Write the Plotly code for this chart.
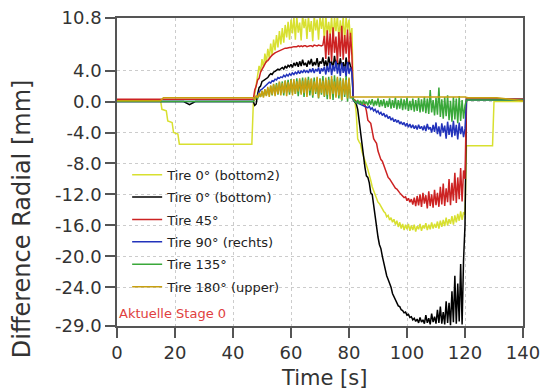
import plotly.graph_objects as go

# ---------------- shared time segments (s) ----------------
t_mid = [47.0, 47.5, 48.0, 48.5, 49.0, 49.5, 50.0, 50.5, 51.0, 51.5,
         52.0, 52.5, 53.0, 53.5, 54.0, 54.5, 55.0, 55.5, 56.0, 56.5,
         57.0, 57.5, 58.0, 58.5, 59.0, 59.5, 60.0, 60.5, 61.0, 61.5,
         62.0, 62.5, 63.0, 63.5, 64.0, 64.5, 65.0, 65.5, 66.0, 66.5,
         67.0, 67.5, 68.0, 68.5, 69.0, 69.5, 70.0, 70.5, 71.0, 71.5,
         72.0, 72.5, 73.0, 73.5, 74.0, 74.5, 75.0, 75.5, 76.0, 76.5,
         77.0, 77.5, 78.0, 78.5, 79.0, 79.5, 80.0, 80.5, 81.0]
t_low = [81.5, 82.0, 82.5, 83.0, 83.5, 84.0, 84.5, 85.0, 85.5, 86.0,
         86.5, 87.0, 87.5, 88.0, 88.5, 89.0, 89.5, 90.0, 90.5, 91.0,
         91.5, 92.0, 92.5, 93.0, 93.5, 94.0, 94.5, 95.0, 95.5, 96.0,
         96.5, 97.0, 97.5, 98.0, 98.5, 99.0, 99.5, 100.0, 100.5, 101.0,
         101.5, 102.0, 102.5, 103.0, 103.5, 104.0, 104.5, 105.0, 105.5, 106.0,
         106.5, 107.0, 107.5, 108.0, 108.5, 109.0, 109.5, 110.0, 110.5, 111.0,
         111.5, 112.0, 112.5, 113.0, 113.5, 114.0, 114.5, 115.0, 115.5, 116.0,
         116.5, 117.0, 117.5, 118.0, 118.5, 119.0, 119.5, 120.0]

# ---------------- Tire 0° (bottom2) ----------------
b2_head_t = [0, 15, 15.5, 17, 17.5, 19, 19.5, 21, 21.5, 46.5]
b2_head_v = [0.2, 0.2, -1.0, -1.2, -2.5, -2.7, -4.0, -4.2, -5.5, -5.5]
b2_mid_v = [-0.3, 0.8, 2.0, 3.5, 4.6, 3.8, 5.5, 4.4, 6.2, 5.0,
            6.8, 5.6, 7.5, 6.0, 8.0, 6.6, 8.6, 7.0, 9.1, 7.4,
            9.5, 7.6, 9.9, 8.3, 10.3, 8.0, 10.6, 8.8, 10.9, 8.0,
            11.0, 8.9, 10.2, 7.9, 11.2, 9.5, 10.7, 8.1, 11.0, 9.0,
            10.4, 7.8, 11.1, 9.2, 10.6, 8.0, 11.0, 9.4, 10.8, 7.9,
            11.2, 8.7, 10.3, 8.6, 11.0, 7.7, 10.9, 9.1, 11.1, 8.0,
            10.5, 8.5, 11.0, 7.8, 10.9, 9.2, 10.6, 8.0, 9.5]
b2_low_v = [0.3, 0.2, -1.5, -4.8, -5.2, -5.5, -6.5, -7.0, -7.5, -8.2,
            -8.8, -9.4, -10.2, -11.0, -11.5, -12.2, -12.5, -13.0, -13.2, -13.6,
            -13.8, -14.2, -14.4, -14.9, -14.7, -15.3, -15.0, -15.6, -15.2, -15.9,
            -15.4, -16.2, -15.6, -16.4, -15.8, -16.6, -15.9, -16.5, -15.8, -16.7,
            -16.0, -16.6, -15.9, -16.8, -16.1, -16.5, -15.8, -16.7, -16.0, -16.4,
            -15.7, -16.6, -15.9, -16.5, -15.6, -16.4, -15.8, -16.3, -15.5, -16.4,
            -15.4, -16.2, -15.3, -16.1, -15.0, -16.0, -15.2, -15.8, -14.8, -15.9,
            -14.7, -15.6, -14.5, -15.4, -14.2, -15.3, -14.3, -14.6]
b2_tail_t = [120.5, 129.5, 130, 140]
b2_tail_v = [-5.7, -5.7, 0.0, 0.0]

# ---------------- Tire 0° (bottom) ----------------
bo_head_t = [0, 23, 25, 27, 46.5]
bo_head_v = [0.0, 0.0, -0.4, 0.0, 0.0]
bo_mid_v = [0.0, -0.5, -0.3, 1.0, 1.8, 2.0, 2.6, 2.7, 2.8, 3.0,
            3.1, 3.4, 3.6, 3.5, 3.8, 3.9, 4.0, 4.2, 4.1, 4.3,
            4.4, 4.2, 4.6, 4.3, 4.7, 4.5, 4.8, 4.4, 5.0, 4.6,
            5.1, 4.5, 5.2, 4.6, 5.4, 4.7, 5.0, 4.5, 5.3, 4.8,
            5.5, 4.6, 5.1, 4.7, 5.6, 4.5, 5.2, 4.9, 5.7, 4.6,
            5.3, 4.4, 5.8, 4.7, 5.2, 4.3, 5.9, 4.6, 5.4, 4.2,
            5.6, 4.5, 5.1, 4.0, 5.7, 4.4, 5.3, 4.6, 4.2]
bo_low_v = [0.2, 0.0, -0.3, -1.0, -2.5, -4.5, -6.0, -7.5, -8.5, -9.6,
            -9.8, -10.5, -11.8, -12.0, -13.5, -15.0, -16.5, -17.5, -18.5, -19.0,
            -20.0, -21.0, -21.5, -22.5, -23.0, -23.5, -24.0, -24.8, -25.2, -25.8,
            -26.0, -26.4, -26.5, -26.9, -27.0, -27.3, -27.2, -27.6, -27.5, -27.9,
            -27.8, -28.2, -28.0, -28.4, -28.1, -28.6, -27.9, -28.5, -28.2, -28.7,
            -27.6, -28.6, -28.0, -28.8, -27.4, -28.5, -27.8, -28.7, -26.9, -28.6,
            -26.5, -28.7, -27.2, -28.8, -25.8, -28.6, -26.0, -28.9, -24.5, -28.5,
            -22.5, -28.7, -23.5, -28.4, -21.0, -28.8, -20.5, -16.0]
bo_tail_t = [120.5, 121, 140]
bo_tail_v = [0.3, 0.3, 0.3]

# ---------------- Tire 45° ----------------
t45_head_t = [0, 46.5]
t45_head_v = [0.3, 0.3]
t45_mid_v = [0.3, 1.5, 2.0, 2.8, 3.0, 3.8, 4.2, 4.6, 4.8, 5.2,
             5.3, 5.6, 5.8, 6.0, 6.2, 6.3, 6.4, 6.5, 6.6, 6.7,
             6.8, 6.8, 6.9, 6.9, 7.0, 7.0, 7.0, 7.1, 7.1, 7.1,
             7.1, 7.2, 7.1, 7.2, 7.1, 7.2, 7.2, 7.1, 7.2, 7.2,
             7.2, 7.1, 7.3, 7.2, 7.2, 7.3, 7.2, 7.2, 7.3, 8.5,
             5.5, 9.2, 6.0, 8.8, 5.2, 9.6, 6.3, 8.4, 5.0, 9.0,
             5.8, 9.8, 5.4, 8.6, 6.2, 9.3, 5.1, 8.9, 6.0]
t45_low_v = [0.3, 0.2, 0.0, 0.0, -0.1, -0.2, -0.2, -0.3, -0.4, -1.2,
             -2.4, -2.6, -2.8, -3.8, -4.8, -5.1, -5.4, -6.4, -7.0, -7.5,
             -7.7, -8.2, -8.8, -9.2, -9.8, -10.0, -10.3, -10.6, -10.9, -11.2,
             -11.3, -11.6, -11.8, -12.0, -12.2, -12.4, -12.3, -12.8, -12.5, -13.0,
             -12.6, -13.3, -12.4, -13.5, -12.2, -13.4, -12.0, -13.6, -11.8, -13.2,
             -12.1, -13.8, -11.6, -13.5, -12.0, -13.7, -11.4, -13.4, -11.8, -13.6,
             -11.0, -13.3, -10.6, -13.5, -11.2, -13.0, -10.0, -13.4, -10.5, -12.8,
             -9.2, -13.1, -9.8, -12.6, -8.6, -12.9, -8.9, -10.0]
t45_tail_t = [120.5, 121, 140]
t45_tail_v = [0.3, 0.3, 0.3]

# ---------------- Tire 90° (rechts) ----------------
t90_head_t = [0, 46.5]
t90_head_v = [0.0, 0.0]
t90_mid_v = [0.0, 0.4, 0.6, 0.8, 1.2, 1.5, 1.6, 1.8, 2.0, 2.2,
             2.3, 2.5, 2.4, 2.7, 2.6, 2.9, 2.8, 3.1, 3.0, 3.2,
             3.1, 3.4, 3.2, 3.5, 3.3, 3.6, 3.4, 3.7, 3.5, 3.8,
             3.6, 3.9, 3.6, 4.0, 3.7, 4.1, 3.8, 4.0, 3.7, 4.2,
             3.8, 4.3, 3.7, 4.2, 3.9, 4.4, 3.6, 4.3, 3.9, 4.5,
             3.5, 4.6, 3.8, 5.0, 3.4, 4.7, 3.9, 5.2, 3.6, 4.8,
             3.3, 5.0, 3.7, 4.6, 3.2, 5.1, 3.6, 4.4, 3.8]
t90_low_v = [0.2, 0.0, -0.1, -0.2, -0.3, -0.4, -0.5, -0.5, -0.6, -0.7,
             -0.8, -0.6, -1.0, -0.8, -1.2, -1.0, -1.4, -1.2, -1.6, -1.4,
             -1.8, -1.5, -2.0, -1.7, -2.2, -1.9, -2.4, -2.1, -2.6, -2.3,
             -2.7, -2.4, -2.9, -2.6, -3.0, -2.7, -3.2, -2.8, -3.3, -2.9,
             -3.4, -3.0, -3.5, -3.1, -3.6, -3.0, -3.5, -3.2, -3.7, -3.1,
             -3.8, -2.9, -3.6, -3.3, -4.0, -3.0, -3.9, -2.7, -4.2, -3.2,
             -4.5, -2.8, -4.0, -3.1, -4.8, -2.6, -4.3, -3.0, -4.6, -2.5,
             -4.4, -3.0, -4.9, -2.7, -4.2, -3.2, -4.6, -3.5]
t90_tail_t = [120.5, 121, 140]
t90_tail_v = [0.2, 0.2, 0.2]

# ---------------- Tire 135° ----------------
t135_head_t = [0, 46.5]
t135_head_v = [0.0, 0.0]
t135_mid_v = [0.0, 0.3, 0.6, 0.4, 1.0, 0.6, 1.3, 0.7, 1.5, 0.8,
              1.7, 0.9, 2.0, 0.8, 2.2, 1.0, 2.4, 0.9, 2.5, 1.1,
              2.6, 0.8, 2.7, 1.2, 2.8, 0.9, 2.9, 1.3, 2.6, 1.0,
              3.0, 0.7, 2.8, 1.1, 3.1, 0.6, 2.9, 1.2, 3.2, 0.8,
              2.9, 0.5, 3.1, 1.0, 2.7, 0.4, 3.0, 0.9, 3.3, 0.6,
              2.8, 0.3, 3.2, 0.8, 2.9, 0.2, 3.4, 0.7, 3.0, 0.4,
              3.1, 0.1, 2.8, 0.6, 3.3, 0.0, 2.9, 0.5, 0.5]
t135_low_v = [0.3, 0.1, -0.2, 0.2, -0.3, 0.1, -0.4, 0.2, -0.3, 0.0,
              -0.5, 0.2, -0.4, 0.3, -0.6, 0.1, -0.5, 0.4, -0.7, 0.2,
              -0.6, 0.3, -0.8, 0.1, -0.7, 0.4, -0.9, 0.2, -0.8, 0.5,
              -1.0, 0.2, -0.9, 0.4, -1.1, 0.3, -1.0, 0.5, -1.2, 0.1,
              -1.1, 0.4, -1.3, 0.2, -1.2, 0.5, -1.4, 0.3, -1.3, 0.6,
              -1.5, 0.4, -1.6, 1.5, -1.4, 0.2, -1.8, 0.5, -1.7, 1.8,
              -2.0, 0.3, -2.2, 0.6, -1.9, 0.8, -2.4, 0.1, -2.6, 0.6,
              -2.3, 0.4, -2.8, 0.7, -2.5, 0.2, -2.2, -0.5]
t135_tail_t = [120.5, 121, 140]
t135_tail_v = [0.2, 0.2, 0.2]

# ---------------- Tire 180° (upper) ----------------
t180_head_t = [0, 15, 16, 46.5]
t180_head_v = [0.1, 0.1, 0.5, 0.5]
t180_mid_v = [0.5, 0.2, 0.8, 0.5, 1.1, 0.6, 1.4, 0.5, 1.6, 0.7,
              1.9, 0.6, 2.1, 0.9, 2.3, 0.7, 2.2, 1.0, 2.6, 0.8,
              2.4, 1.1, 2.7, 0.7, 2.5, 1.2, 2.8, 0.8, 2.9, 1.0,
              2.6, 1.3, 3.0, 0.9, 2.7, 1.1, 3.1, 0.6, 2.8, 1.4,
              3.0, 0.8, 2.6, 1.2, 3.2, 0.5, 2.9, 1.1, 2.7, 0.7,
              3.1, 0.9, 2.8, 0.3, 3.3, 1.0, 2.6, 0.5, 3.2, 0.8,
              2.7, 0.2, 3.0, 0.9, 2.8, 0.4, 3.1, 0.6, 0.6]
t180_tail_t = [81.5, 120.0, 121, 131, 140]
t180_tail_v = [0.6, 0.6, 0.5, 0.5, 0.1]

# ---------------- axis ticks ----------------
x_ticks = [0, 20, 40, 60, 80, 100, 120, 140]
y_tickvals = [10.8, 4.0, 0.0, -4.0, -8.0, -12.0, -16.0, -20.0, -24.0, -29.0]
y_ticktext = ["10.8", "4.0", "0.0", "-4.0", "-8.0", "-12.0", "-16.0", "-20.0", "-24.0", "-29.0"]

series = [
    ("Tire 0° (bottom2)", "#d8e030",
     b2_head_t + t_mid + t_low + b2_tail_t, b2_head_v + b2_mid_v + b2_low_v + b2_tail_v),
    ("Tire 0° (bottom)", "#000000",
     bo_head_t + t_mid + t_low + bo_tail_t, bo_head_v + bo_mid_v + bo_low_v + bo_tail_v),
    ("Tire 45°", "#cc2222",
     t45_head_t + t_mid + t_low + t45_tail_t, t45_head_v + t45_mid_v + t45_low_v + t45_tail_v),
    ("Tire 90° (rechts)", "#2233bb",
     t90_head_t + t_mid + t_low + t90_tail_t, t90_head_v + t90_mid_v + t90_low_v + t90_tail_v),
    ("Tire 135°", "#3aa83a",
     t135_head_t + t_mid + t_low + t135_tail_t, t135_head_v + t135_mid_v + t135_low_v + t135_tail_v),
    ("Tire 180° (upper)", "#c8a010",
     t180_head_t + t_mid + t180_tail_t, t180_head_v + t180_mid_v + t180_tail_v),
]

fig = go.Figure()
for name, color, xs, ys in series:
    n = min(len(xs), len(ys))
    fig.add_trace(go.Scatter(x=xs[:n], y=ys[:n], mode="lines", name=name,
                             legendgroup=name,
                             line=dict(color=color, width=1.5)))

fig.add_annotation(text="Aktuelle Stage 0", xref="paper", yref="paper",
                   x=0.0, y=0.04, xanchor="left", yanchor="middle",
                   showarrow=False, font=dict(family="DejaVu Sans", size=13, color="#e04040"))

# axis titles placed as annotations to match the reference positions
fig.add_annotation(text="Difference Radial [mm]", xref="paper", yref="paper",
                   x=-0.234, y=0.35, xanchor="center", yanchor="middle", textangle=-90,
                   showarrow=False, font=dict(family="DejaVu Sans", size=24, color="#333333"))
fig.add_annotation(text="Time [s]", xref="paper", yref="paper",
                   x=0.51, y=-0.168, xanchor="center", yanchor="middle",
                   showarrow=False, font=dict(family="DejaVu Sans", size=21, color="#333333"))

axis_common = dict(showline=True, linecolor="#555555", linewidth=1.5, mirror=True,
                   ticks="outside", ticklen=10, tickwidth=1.5, tickcolor="#555555",
                   showgrid=True, gridcolor="#cccccc", griddash="dot", gridwidth=1,
                   zeroline=False, automargin=False, ticklabeloverflow="allow",
                   tickfont=dict(family="DejaVu Sans", size=18, color="#333333"))

fig.update_layout(
    width=540, height=389,
    margin=dict(l=117, r=17, t=18, b=63),
    paper_bgcolor="white", plot_bgcolor="white",
    showlegend=True,
    legend=dict(x=0.025, y=0.54, xanchor="left", yanchor="top",
                bgcolor="rgba(255,255,255,0)", borderwidth=0,
                font=dict(family="DejaVu Sans", size=13, color="#222222"),
                tracegroupgap=2.5),
    xaxis=dict(range=[0, 140], tickvals=x_ticks, **axis_common),
    yaxis=dict(range=[-29, 10.8], tickvals=y_tickvals, ticktext=y_ticktext, **axis_common),
)

# remove the default page margin so the 540x389 figure fills the window exactly
fig.write_html("out.html", config={"displayModeBar": False},
               post_script="document.body.style.margin='0';")
